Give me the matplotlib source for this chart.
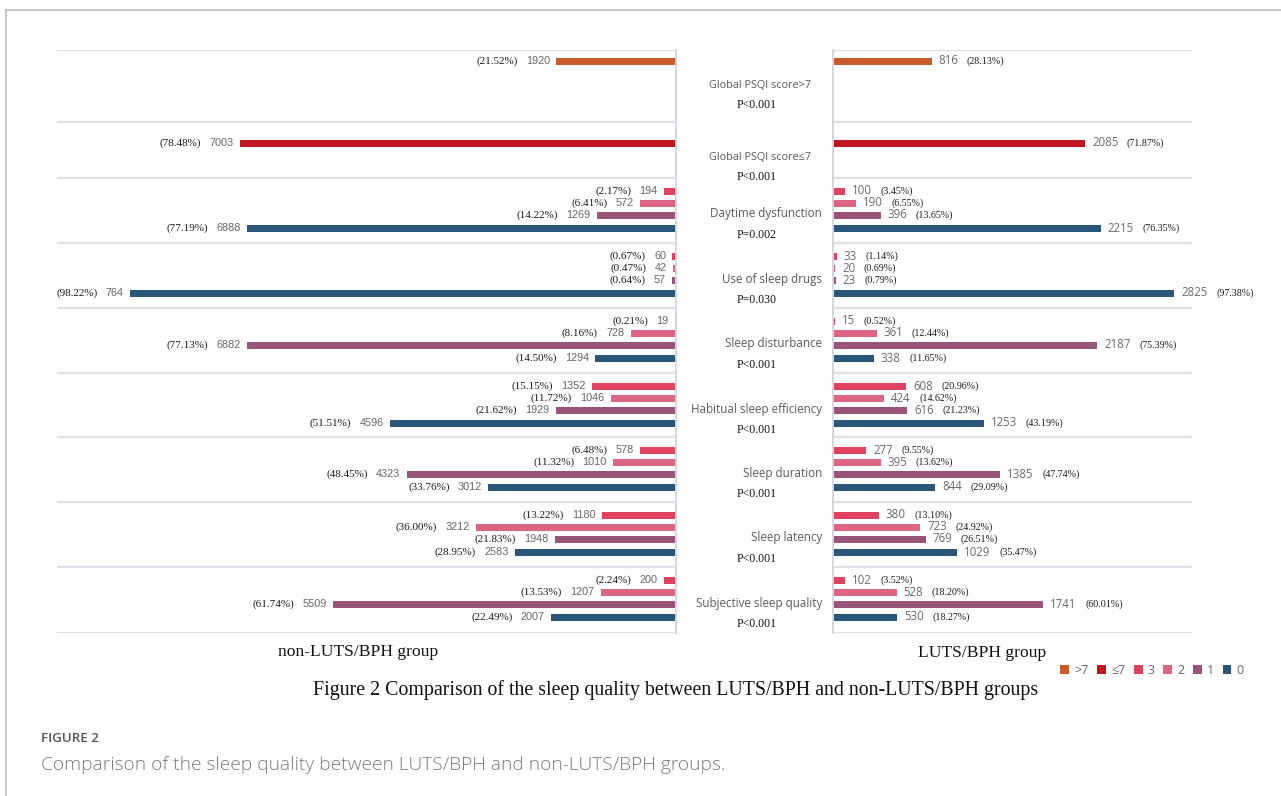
import matplotlib
matplotlib.use("Agg")
import matplotlib.pyplot as plt
from matplotlib import font_manager
from matplotlib.transforms import blended_transform_factory
from matplotlib.patches import Patch
from matplotlib.lines import Line2D

# ---------------- data ----------------
categories = ["Global PSQI score>7", "Global PSQI score≤7", "Daytime dysfunction",
              "Use of sleep drugs", "Sleep disturbance", "Habitual sleep efficiency",
              "Sleep duration", "Sleep latency", "Subjective sleep quality"]
p_values = ["P<0.001", "P<0.001", "P=0.002", "P=0.030", "P<0.001", "P<0.001",
            "P<0.001", "P<0.001", "P<0.001"]

# Global PSQI (>7, <=7)
non_global = [1920, 7003]
non_global_pct = [21.52, 78.48]
luts_global = [816, 2085]
luts_global_pct = [28.13, 71.87]

# components: bars top->bottom are score 3, 2, 1, 0
non_daytime = [194, 572, 1269, 6888]
non_daytime_pct = [2.17, 6.41, 14.22, 77.19]
non_drugs = [60, 42, 57, 8764]
non_drugs_pct = [0.67, 0.47, 0.64, 98.22]
non_disturb = [19, 728, 6882, 1294]
non_disturb_pct = [0.21, 8.16, 77.13, 14.50]
non_eff = [1352, 1046, 1929, 4596]
non_eff_pct = [15.15, 11.72, 21.62, 51.51]
non_dur = [578, 1010, 4323, 3012]
non_dur_pct = [6.48, 11.32, 48.45, 33.76]
non_lat = [1180, 3212, 1948, 2583]
non_lat_pct = [13.22, 36.00, 21.83, 28.95]
non_subj = [200, 1207, 5509, 2007]
non_subj_pct = [2.24, 13.53, 61.74, 22.49]

luts_daytime = [100, 190, 396, 2215]
luts_daytime_pct = [3.45, 6.55, 13.65, 76.35]
luts_drugs = [33, 20, 23, 2825]
luts_drugs_pct = [1.14, 0.69, 0.79, 97.38]
luts_disturb = [15, 361, 2187, 338]
luts_disturb_pct = [0.52, 12.44, 75.39, 11.65]
luts_eff = [608, 424, 616, 1253]
luts_eff_pct = [20.96, 14.62, 21.23, 43.19]
luts_dur = [277, 395, 1385, 844]
luts_dur_pct = [9.55, 13.62, 47.74, 29.09]
luts_lat = [380, 723, 769, 1029]
luts_lat_pct = [13.10, 24.92, 26.51, 35.47]
luts_subj = [102, 528, 1741, 530]
luts_subj_pct = [3.52, 18.20, 60.01, 18.27]

# count text as printed in the source (one label is cut off there)
non_label_override = {8764: "764"}

legend_labels = [">7", "≤7", "3", "2", "1", "0"]

# ---------------- style ----------------
c_gt7 = "#C95C2A"
c_le7 = "#BF1620"
c_score = ["#E0435F", "#DD6482", "#9A5479", "#28577A"]
grid_c = "#DCE1E5"
txt_gray = "#5A5A5A"

names = {f.name for f in font_manager.fontManager.ttflist}
narrow = "Liberation Sans Narrow" if "Liberation Sans Narrow" in names else "Liberation Sans"
serif = "Liberation Serif"
sans = "Open Sans" if "Open Sans" in names else "DejaVu Sans"

W, H = 1281, 796
fig = plt.figure(figsize=(W / 100, H / 100), dpi=100)
fx = lambda px: px / W
fy = lambda py: 1 - py / H

# layout (pixel rows)
row_tops = [50, 122, 178, 243, 308, 373, 437, 502, 567]
bottom = 633
sub_off = [13, 25, 37, 50]
single_off = [11, 21]
bar_h = 7

axL = fig.add_axes([fx(57), fy(bottom), fx(676) - fx(57), fy(50) - fy(bottom)])
axR = fig.add_axes([fx(833), fy(bottom), fx(1192) - fx(833), fy(50) - fy(bottom)])
axL.set_xlim(9936, 0)
axR.set_xlim(0, 2970)
for ax in (axL, axR):
    ax.set_ylim(bottom, 50)
    for s in ax.spines.values():
        s.set_visible(False)
    ax.set_xticks([]); ax.set_yticks([])
    for y in row_tops + [bottom]:
        ax.axhline(y, color=grid_c, lw=1.6, zorder=0)
axL.spines["right"].set_visible(True)
axL.spines["right"].set_color("#D3D8DD"); axL.spines["right"].set_linewidth(1.4)
axR.spines["left"].set_visible(True)
axR.spines["left"].set_color("#D3D8DD"); axR.spines["left"].set_linewidth(1.4)

non_comp = [(non_daytime, non_daytime_pct), (non_drugs, non_drugs_pct),
            (non_disturb, non_disturb_pct), (non_eff, non_eff_pct),
            (non_dur, non_dur_pct), (non_lat, non_lat_pct), (non_subj, non_subj_pct)]
luts_comp = [(luts_daytime, luts_daytime_pct), (luts_drugs, luts_drugs_pct),
             (luts_disturb, luts_disturb_pct), (luts_eff, luts_eff_pct),
             (luts_dur, luts_dur_pct), (luts_lat, luts_lat_pct), (luts_subj, luts_subj_pct)]


def label_left(ax, v, y, pct):
    txt = non_label_override.get(v, str(v))
    t = ax.annotate(txt, xy=(v, y), xytext=(-4.5, 0), textcoords="offset points",
                    ha="right", va="center", fontsize=7.8, family=narrow, color="#666666")
    ax.annotate(f"({pct:.2f}%)", xy=(0, 0.5), xycoords=t, xytext=(-6, 0),
                textcoords="offset points", ha="right", va="center",
                fontsize=8, family=serif, color="#1A1A1A")


def label_right(ax, v, y, pct):
    t = ax.annotate(str(v), xy=(v, y), xytext=(5, 0), textcoords="offset points",
                    ha="left", va="center", fontsize=8.3, family=sans, color="#6A6A6A")
    ax.annotate(f"({pct:.2f}%)", xy=(1, 0.5), xycoords=t, xytext=(6, 0),
                textcoords="offset points", ha="left", va="center",
                fontsize=7.2, family=serif, color="#1A1A1A")


# global rows
for i, (col) in enumerate([c_gt7, c_le7]):
    y = row_tops[i] + single_off[i]
    axL.barh(y, non_global[i], height=bar_h, color=col)
    label_left(axL, non_global[i], y, non_global_pct[i])
    axR.barh(y, luts_global[i], height=bar_h, color=col)
    label_right(axR, luts_global[i], y, luts_global_pct[i])

# component rows
for r in range(7):
    top = row_tops[r + 2]
    ys = [top + o for o in sub_off]
    vals, pcts = non_comp[r]
    axL.barh(ys, vals, height=bar_h, color=c_score)
    for v, y, p in zip(vals, ys, pcts):
        label_left(axL, v, y, p)
    vals, pcts = luts_comp[r]
    axR.barh(ys, vals, height=bar_h, color=c_score)
    for v, y, p in zip(vals, ys, pcts):
        label_right(axR, v, y, p)

# centre texts
tr = blended_transform_factory(fig.transFigure, axL.transData)
for i, (cat, pv) in enumerate(zip(categories, p_values)):
    top = row_tops[i]
    if i < 2:
        fig.text(fx(760), top + 36, cat, transform=tr, ha="center", va="center",
                 fontsize=7.8, family=sans, color=txt_gray)
        fig.text(fx(737), top + 55, pv, transform=tr, ha="left", va="center",
                 fontsize=8.5, family=serif, color="#111111")
    else:
        fig.text(fx(822), top + 36, cat, transform=tr, ha="right", va="center",
                 fontsize=8.4, family=sans, color=txt_gray)
        fig.text(fx(737), top + 57, pv, transform=tr, ha="left", va="center",
                 fontsize=8.5, family=serif, color="#111111")

# group names, caption
fig.text(fx(358), fy(652), "non-LUTS/BPH group", ha="center", va="center",
         fontsize=12.6, family=serif, color="#111111")
fig.text(fx(982), fy(653), "LUTS/BPH group", ha="center", va="center",
         fontsize=12.6, family=serif, color="#111111")
fig.text(fx(676), fy(690), "Figure 2 Comparison of the sleep quality between LUTS/BPH and non-LUTS/BPH groups",
         ha="center", va="center", fontsize=14.3, family=serif, color="#111111")

# legend
handles = [Patch(facecolor=c) for c in [c_gt7, c_le7] + c_score]
fig.legend(handles, legend_labels, ncol=6, loc="center", bbox_to_anchor=(fx(1152), fy(670)),
           frameon=False, handlelength=0.7, handleheight=0.75,
           handletextpad=0.4, columnspacing=0.7, labelcolor="#666666",
           prop={"family": sans, "size": 9.0})

# page frame and figure caption
fig.add_artist(Line2D([fx(6), 1], [fy(10), fy(10)], color="#BDBDBD", lw=1.2))
fig.add_artist(Line2D([fx(6), fx(6)], [fy(10), 0], color="#BDBDBD", lw=1.2))
fig.text(fx(41), fy(738), "FIGURE 2", ha="left", va="center", fontsize=9.6,
         family=sans, fontweight="semibold", color="#555555")
fig.text(fx(41), fy(765), "Comparison of the sleep quality between LUTS/BPH and non-LUTS/BPH groups.",
         ha="left", va="center", fontsize=13.8, family=sans, fontweight="light", color="#7A7A7A")

fig.savefig("out.png", dpi=100)
